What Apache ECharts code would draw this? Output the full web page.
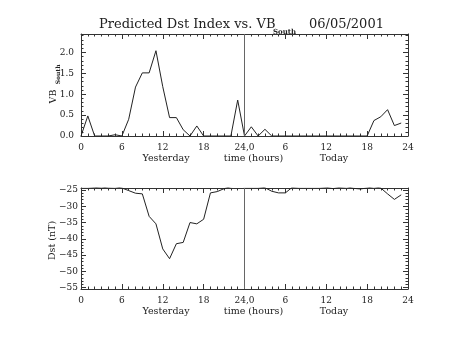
<!DOCTYPE html>
<html>
<head>
<meta charset="utf-8">
<script src="https://cdn.jsdelivr.net/npm/echarts@6/dist/echarts.min.js"></script>
<style>
html,body{margin:0;padding:0;background:#fff;}
#chart{width:454px;height:341px;}
</style>
</head>
<body>
<div id="chart"></div>
<script>
// Hours 0..23 for each day; today is plotted after yesterday (x = 24..47)
var hours = [0,1,2,3,4,5,6,7,8,9,10,11,12,13,14,15,16,17,18,19,20,21,22,23];
var vbYesterday = [0, 0.48, 0, 0, 0, 0.03, 0, 0.40, 1.17, 1.51, 1.51, 2.04, 1.18, 0.44, 0.44, 0.15, 0, 0.24, 0, 0, 0, 0, 0, 0.86];
var vbToday = [0, 0.22, 0, 0.16, 0, 0, 0, 0, 0, 0, 0, 0, 0, 0, 0, 0, 0, 0, 0, 0.37, 0.46, 0.63, 0.25, 0.31];
var dstYesterday = [-24.0, -24.0, -24.2, -24.4, -24.1, -24.0, -24.4, -25.2, -26.0, -26.2, -33.1, -35.4, -43.1, -46.1, -41.5, -41.1, -35.0, -35.4, -34.0, -25.9, -25.5, -24.6, -24.0, -23.8];
var dstToday = [-24.0, -24.0, -24.0, -24.3, -25.4, -25.9, -25.9, -24.2, -24.0, -24.0, -24.0, -24.0, -24.2, -24.6, -24.2, -24.0, -24.5, -24.7, -24.4, -24.0, -24.4, -26.2, -27.9, -26.5];
var xTickLabels = ['0', '6', '12', '18', '24,0', '6', '12', '18', '24'];
var vbTickLabels = ['0.0', '0.5', '1.0', '1.5', '2.0'];
var dstTickValues = [-55, -50, -45, -40, -35, -30, -25];
var dstTickLabels = ['\u221255', '\u221250', '\u221245', '\u221240', '\u221235', '\u221230', '\u221225'];
var dayLabels = ['Yesterday', 'time (hours)', 'Today'];

function joinDays(y, t) {
  var out = [];
  for (var i = 0; i < hours.length; i++) out.push([hours[i], y[i]]);
  for (var j = 0; j < hours.length; j++) out.push([hours[j] + 24, t[j]]);
  return out;
}

var FONT = 'DejaVu Serif';
var AX = '#333';
var TXT = '#222';

function xAxisPair(gridIndex) {
  var base = {
    type: 'value', gridIndex: gridIndex, min: 0, max: 48, interval: 6,
    axisLine: {show: true, onZero: false, lineStyle: {color: AX, width: 1}},
    axisTick: {show: true, inside: true, length: 5, lineStyle: {color: AX}},
    minorTick: {show: true, splitNumber: 6, length: 2.5, lineStyle: {color: AX}},
    splitLine: {show: false}
  };
  var bottom = Object.assign({}, base, {
    position: 'bottom',
    axisLabel: {show: true, margin: 7, fontFamily: FONT, fontSize: 9, color: TXT,
      formatter: function (v) { var k = Math.round(v / 6); return (Math.abs(v - k * 6) < 1e-6) ? xTickLabels[k] : ''; }}
  });
  var top = Object.assign({}, base, {position: 'top', axisLabel: {show: false}});
  return [bottom, top];
}

function yBase(gridIndex, min, max) {
  return {
    type: 'value', gridIndex: gridIndex, min: min, max: max,
    axisLine: {show: true, onZero: false, lineStyle: {color: AX, width: 1}},
    axisTick: {show: true, inside: true, length: 5, lineStyle: {color: AX}},
    minorTick: {show: true, splitNumber: 5, length: 2.5, lineStyle: {color: AX}},
    splitLine: {show: false}
  };
}

// VB axes (min 0 is a multiple of interval 0.5)
var vbLeft = Object.assign(yBase(0, 0, 2.44), {
  position: 'left', interval: 0.5, showMaxLabel: false,
  axisLabel: {show: true, margin: 7, fontFamily: FONT, fontSize: 9, color: TXT,
    formatter: function (v) {
      var k = Math.round(v / 0.5);
      if (Math.abs(v - k * 0.5) > 1e-6) return '';
      return vbTickLabels[k] !== undefined ? vbTickLabels[k] : '';
    }}
});
var vbRight = Object.assign(yBase(0, 0, 2.44), {position: 'right', interval: 0.5, axisLabel: {show: false}});

// Dst axes: no interval so ticks fall on multiples of 5
var dstLeft = Object.assign(yBase(1, -55.4, -24.4), {
  position: 'left', splitNumber: 6, showMinLabel: false, showMaxLabel: false,
  axisLabel: {show: true, margin: 3, fontFamily: FONT, fontSize: 9, color: TXT,
    formatter: function (v) {
      for (var i = 0; i < dstTickValues.length; i++) {
        if (Math.abs(v - dstTickValues[i]) < 1e-6) return dstTickLabels[i];
      }
      return '';
    }}
});
var dstRight = Object.assign(yBase(1, -55.4, -24.4), {position: 'right', splitNumber: 6, axisLabel: {show: false}});

var xa0 = xAxisPair(0), xa1 = xAxisPair(1);

var vline = {
  silent: true, symbol: ['none', 'none'], label: {show: false},
  lineStyle: {color: '#666', width: 1, type: 'solid'},
  data: [{xAxis: 24}]
};

var txt = function (s, x, y, size) {
  return {type: 'text', x: x, y: y,
    style: {text: s, font: size + 'px "DejaVu Serif"', fill: TXT, textAlign: 'center', textVerticalAlign: 'middle'}};
};

var chart = echarts.init(document.getElementById('chart'), null, {renderer: 'canvas'});
chart.setOption({
  animation: false,
  backgroundColor: '#fff',
  grid: [
    {left: 81, right: 46, top: 34, height: 102},
    {left: 81, right: 46, top: 188, height: 101}
  ],
  xAxis: [xa0[0], xa0[1], xa1[0], xa1[1]],
  yAxis: [vbLeft, vbRight, dstLeft, dstRight],
  series: [
    {type: 'line', xAxisIndex: 0, yAxisIndex: 0, data: joinDays(vbYesterday, vbToday),
      showSymbol: false, clip: true, lineStyle: {color: '#222', width: 1}, markLine: vline},
    {type: 'line', xAxisIndex: 2, yAxisIndex: 2, data: joinDays(dstYesterday, dstToday),
      showSymbol: false, clip: true, lineStyle: {color: '#222', width: 1}, markLine: vline}
  ],
  graphic: [
    {type: 'text', left: 99, top: 18, style: {text: 'Predicted Dst Index vs. VB', font: '13px "DejaVu Serif"', fill: TXT}},
    {type: 'text', left: 273, top: 29, style: {text: 'South', font: 'bold 7px "DejaVu Serif"', fill: TXT}},
    {type: 'text', left: 309, top: 18, style: {text: '06/05/2001', font: '13px "DejaVu Serif"', fill: TXT}},
    {type: 'text', x: 53.3, y: 96.5, rotation: Math.PI / 2,
      style: {text: 'VB', font: '9.5px "DejaVu Serif"', fill: TXT, textAlign: 'center', textVerticalAlign: 'middle'}},
    {type: 'text', x: 58.7, y: 74.3, rotation: Math.PI / 2,
      style: {text: 'South', font: 'bold 6px "DejaVu Serif"', fill: TXT, textAlign: 'center', textVerticalAlign: 'middle'}},
    {type: 'text', x: 52.5, y: 240.5, rotation: Math.PI / 2,
      style: {text: 'Dst (nT)', font: '9.5px "DejaVu Serif"', fill: TXT, textAlign: 'center', textVerticalAlign: 'middle'}},
    txt(dayLabels[0], 166, 158.5, 9.5),
    txt(dayLabels[1], 253.5, 158.5, 9.5),
    txt(dayLabels[2], 334, 158.5, 9.5),
    txt(dayLabels[0], 166, 311.5, 9.5),
    txt(dayLabels[1], 253.5, 311.5, 9.5),
    txt(dayLabels[2], 334, 311.5, 9.5)
  ]
});
</script>
</body>
</html>
